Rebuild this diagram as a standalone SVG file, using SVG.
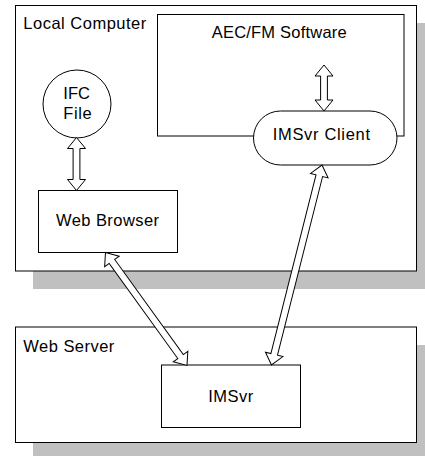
<svg xmlns="http://www.w3.org/2000/svg" width="425" height="456" viewBox="0 0 425 456">
<style>
.shadow{fill:#c0c0c0;stroke:none}
.box{fill:#fff;stroke:#000;stroke-width:1}
.arrow{fill:#fff;stroke:#000;stroke-width:1;stroke-linejoin:miter}
text{font-family:"Liberation Sans",Arial,sans-serif;font-size:16.5px;fill:#000}
</style>
<rect width="425" height="456" fill="#fff"/>
<g id="local-computer">
<rect class="shadow" x="33" y="23" width="401" height="266"/>
<rect class="box" x="15.5" y="5.5" width="401" height="265.5"/>
<text x="23.3" y="29.3" textLength="123" lengthAdjust="spacing">Local Computer</text>
</g>
<g id="web-server">
<rect class="shadow" x="33" y="345" width="401" height="120"/>
<rect class="box" x="15.5" y="327" width="401" height="115.5"/>
<text x="23.3" y="351.7" textLength="91" lengthAdjust="spacing">Web Server</text>
</g>
<g id="aecfm-software">
<rect class="box" x="157.5" y="14.5" width="246.5" height="121.5"/>
<text x="211.7" y="38.3" textLength="135" lengthAdjust="spacing">AEC/FM Software</text>
</g>
<g id="imsvr-client">
<rect class="box" x="253.5" y="111" width="143.5" height="54" rx="27" ry="27"/>
<text x="272.7" y="140" textLength="97.3" lengthAdjust="spacing">IMSvr Client</text>
</g>
<g id="ifc-file">
<circle class="box" cx="77" cy="104" r="34"/>
<text x="63.3" y="99.3" textLength="26.7" lengthAdjust="spacing">IFC</text>
<text x="63.3" y="119.3" textLength="28.3" lengthAdjust="spacing">File</text>
</g>
<g id="web-browser">
<rect class="box" x="38.5" y="190.5" width="139" height="62"/>
<text x="56" y="226" textLength="103" lengthAdjust="spacing">Web Browser</text>
</g>
<g id="imsvr">
<rect class="box" x="161.5" y="365" width="139" height="62.5"/>
<text x="208.3" y="401.7" textLength="45" lengthAdjust="spacing">IMSvr</text>
</g>
<g id="connectors">
<polygon class="arrow" transform="translate(76.5,137.5) rotate(90)" points="0,0 11,-9 11,-3.4 42,-3.4 42,-9 53,0 42,9 42,3.4 11,3.4 11,9"/>
<polygon class="arrow" transform="translate(324,65) rotate(90)" points="0,0 11,-9 11,-3.4 35,-3.4 35,-9 46,0 35,9 35,3.4 11,3.4 11,9"/>
<polygon class="arrow" transform="translate(105.5,252.5) rotate(54.2)" points="0,0 11,-9 11,-3.4 128.3,-3.4 128.3,-9 139.3,0 128.3,9 128.3,3.4 11,3.4 11,9"/>
<polygon class="arrow" transform="translate(322,165) rotate(104.17)" points="0,0 11,-9 11,-3.4 195.3,-3.4 195.3,-9 206.3,0 195.3,9 195.3,3.4 11,3.4 11,9"/>
</g>
</svg>
